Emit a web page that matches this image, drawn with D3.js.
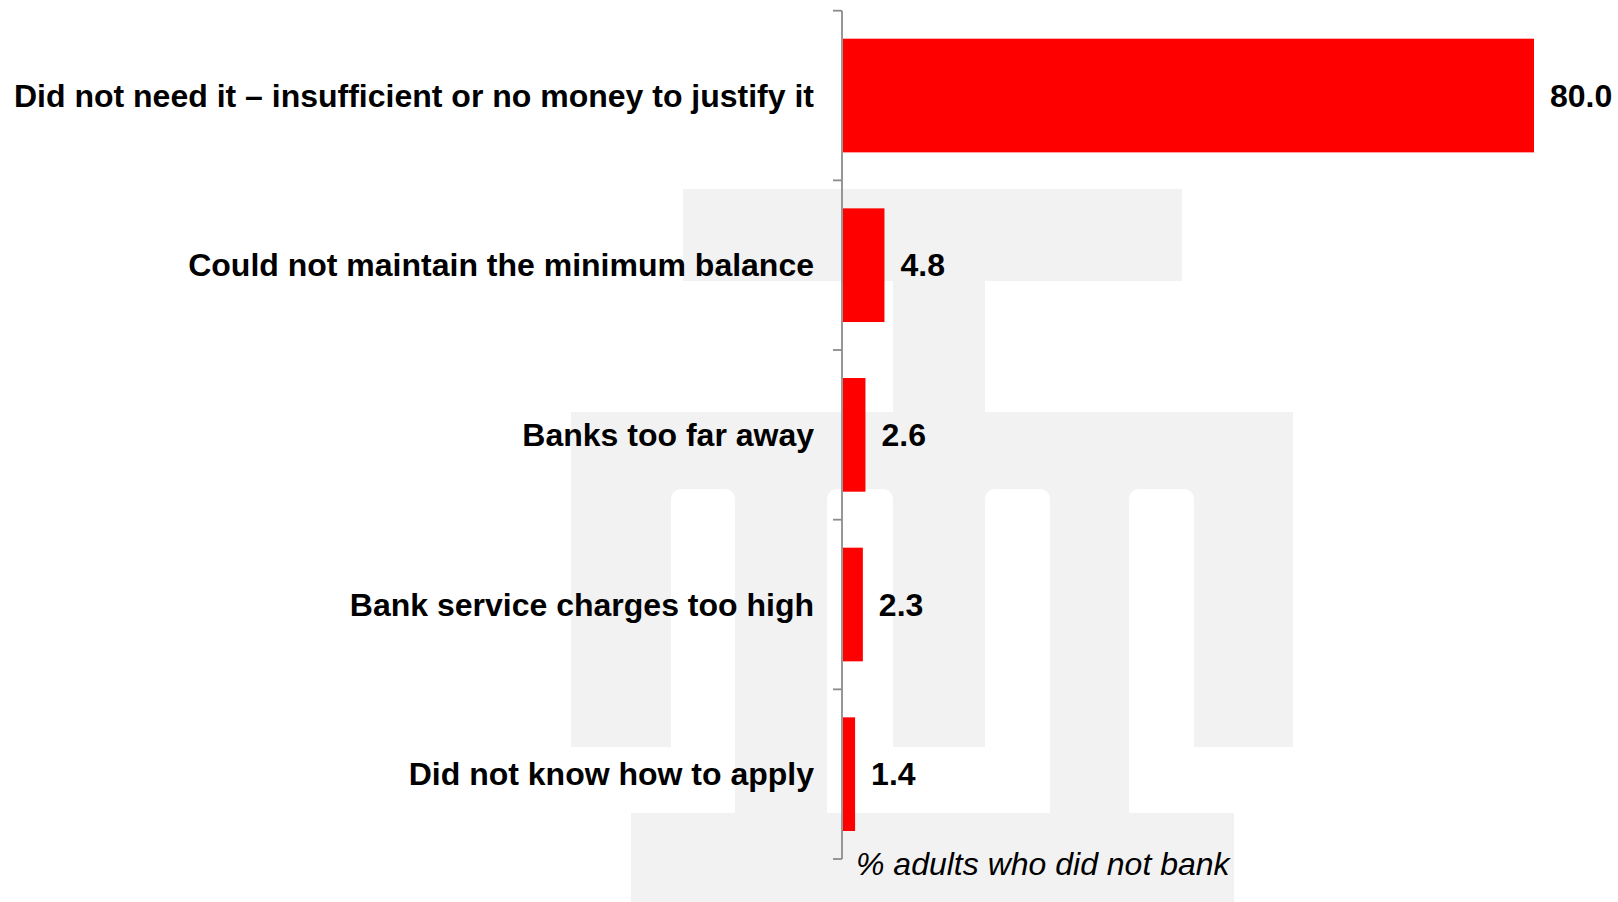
<!DOCTYPE html>
<html lang="en">
<head>
  <meta charset="UTF-8">
  <title>Reasons for not banking</title>
  <script src="https://d3js.org/d3.v7.min.js"></script>
  <style>
    body {
      margin: 0;
      background: #fff;
    }

    svg {
      display: block;
      font-family: "Liberation Sans", Arial, Helvetica, sans-serif;
    }

    .cat-label {
      font-size: 32px;
      font-weight: bold;
      fill: #000;
    }

    .val-label {
      font-size: 32px;
      font-weight: bold;
      fill: #000;
    }

    .axis-title {
      font-size: 32px;
      font-style: italic;
      fill: #000;
    }
  </style>
</head>
<body>

  <svg id="chart" width="1618" height="902"></svg>

  <script>
    // Data
    const categories = [
      "Did not need it \u2013 insufficient or no money to justify it",
      "Could not maintain the minimum balance",
      "Banks too far away",
      "Bank service charges too high",
      "Did not know how to apply"
    ];
    const values = [80.0, 4.8, 2.6, 2.3, 1.4];
    const axisTitle = "% adults who did not bank";

    const width = 1618;
    const height = 902;
    const axisX = 843;

    const svg = d3.select("#chart");

    // Faint logo in the background (gray blocks with white arch cut-outs)
    const logoBlocks = [
      { x: 683, y: 189, w: 499, h: 92 },
      { x: 893, y: 280, w: 92, h: 133 },
      { x: 571, y: 412, w: 722, h: 335 },
      { x: 735, y: 746, w: 92, h: 68 },
      { x: 1050, y: 746, w: 79, h: 68 },
      { x: 631, y: 813, w: 603, h: 89 }
    ];
    const logoArches = [
      { x: 671, w: 64 },
      { x: 827, w: 66 },
      { x: 985, w: 65 },
      { x: 1129, w: 65 }
    ];

    const logo = svg.append("g").attr("class", "logo");
    logo.selectAll("rect.block")
      .data(logoBlocks)
      .join("rect")
      .attr("class", "block")
      .attr("x", d => d.x)
      .attr("y", d => d.y)
      .attr("width", d => d.w)
      .attr("height", d => d.h)
      .attr("fill", "#f2f2f2");

    logo.selectAll("rect.arch")
      .data(logoArches)
      .join("rect")
      .attr("class", "arch")
      .attr("x", d => d.x)
      .attr("y", 489)
      .attr("width", d => d.w)
      .attr("height", 300)
      .attr("rx", 10)
      .attr("fill", "#fff");

    // Scales
    const y = d3.scaleBand()
      .domain(categories)
      .range([10.7, 859])
      .paddingInner(0.33)
      .paddingOuter(0.165);

    const x = d3.scaleLinear()
      .domain([0, 80])
      .range([axisX, 1534]);

    const gap = (y.step() - y.bandwidth()) / 2;

    // Bars
    svg.append("g")
      .selectAll("rect")
      .data(values)
      .join("rect")
      .attr("x", x(0))
      .attr("y", (d, i) => y(categories[i]))
      .attr("width", d => x(d) - x(0))
      .attr("height", y.bandwidth())
      .attr("fill", "#ff0000");

    // Axis line with ticks between the bands
    const axis = svg.append("g").attr("stroke", "#8c8c8c").attr("stroke-width", 1.8);
    axis.append("line")
      .attr("x1", axisX - 1)
      .attr("x2", axisX - 1)
      .attr("y1", y.range()[0])
      .attr("y2", y.range()[1]);

    const tickYs = categories.map(c => y(c) - gap).concat([y.range()[1]]);
    axis.selectAll("line.tick")
      .data(tickYs)
      .join("line")
      .attr("class", "tick")
      .attr("x1", axisX - 10)
      .attr("x2", axisX - 1)
      .attr("y1", d => d)
      .attr("y2", d => d);

    // Category labels
    svg.append("g")
      .selectAll("text")
      .data(categories)
      .join("text")
      .attr("class", "cat-label")
      .attr("x", 814)
      .attr("y", d => y(d) + y.bandwidth() / 2)
      .attr("dy", "0.35em")
      .attr("text-anchor", "end")
      .text(d => d);

    // Value labels
    svg.append("g")
      .selectAll("text")
      .data(values)
      .join("text")
      .attr("class", "val-label")
      .attr("x", d => x(d) + 16)
      .attr("y", (d, i) => y(categories[i]) + y.bandwidth() / 2)
      .attr("dy", "0.35em")
      .text(d => d.toFixed(1));

    // Axis title
    svg.append("text")
      .attr("class", "axis-title")
      .attr("x", 856)
      .attr("y", 875)
      .text(axisTitle);
  </script>

</body>
</html>
